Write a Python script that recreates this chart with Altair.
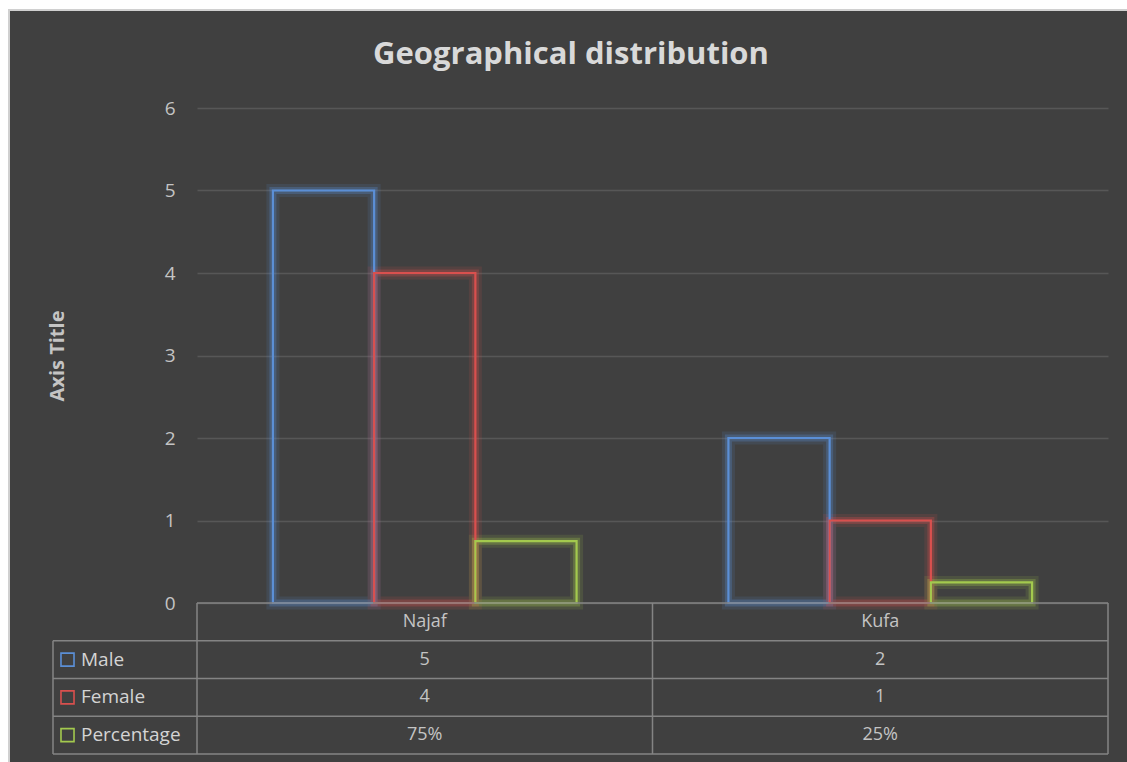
import altair as alt
import pandas as pd

# ---------------- data ----------------
categories = ["Najaf", "Kufa"]
series = ["Male", "Female", "Percentage"]
male = [5, 2]
female = [4, 1]
percentage = [0.75, 0.25]
colors = ["#5b8fd6", "#d9504e", "#a3c94e"]
y_ticks = [0, 1, 2, 3, 4, 5, 6]
title_text = "Geographical distribution"

values = {"Male": male, "Female": female, "Percentage": percentage}
rows = []
for s_i, s in enumerate(series):
    for c_i, c in enumerate(categories):
        v = values[s][c_i]
        lab = f"{round(v * 100)}%" if s == "Percentage" else f"{v}"
        rows.append({"series": s, "category": c, "value": v, "label": lab,
                     "col": c_i + 0.5, "row": s_i + 1.5})
df = pd.DataFrame(rows)

# ---------------- layout ----------------
W, H = 911, 495
PAD_L, PAD_T = 197, 108
TABLE_H = 151
COL_W = W / len(categories)
LEG_W = 144
leg_left = -LEG_W / COL_W          # legend column left edge in column units
sym_x = -129.5 / COL_W
lab_x = -116 / COL_W
n_rows = 4

FONT = "Open Sans"
BG = "#404040"
GRID = "#575757"
LINE = "#848484"
TXT = "#c4c4c4"

color_scale = alt.Scale(domain=series, range=colors)
x_band = alt.X("category:N", sort=categories, axis=None,
               scale=alt.Scale(domain=categories, paddingInner=0, paddingOuter=0))
x_off = alt.XOffset("series:N", sort=series,
                    scale=alt.Scale(domain=series, paddingInner=0, paddingOuter=0.75))
y_lin = alt.Y("value:Q", scale=alt.Scale(domain=[0, 6], nice=False),
              axis=alt.Axis(values=y_ticks, grid=True, gridColor=GRID, gridWidth=1.5,
                            domain=False, ticks=False, labelPadding=22,
                            labelFont=FONT, labelFontSize=19, labelColor=TXT,
                            title="Axis Title", titleFont=FONT, titleFontSize=20,
                            titleFontWeight="bold", titleColor=TXT,
                            titleX=-140, titleY=H / 2, titleBaseline="middle",
                            titleAngle=270))
stroke_enc = alt.Stroke("series:N", scale=color_scale, legend=None)

base = alt.Chart(df)
glow1 = base.mark_bar(filled=False, strokeWidth=13, opacity=0.13).encode(
    x=x_band, xOffset=x_off, y=y_lin, stroke=stroke_enc)
glow2 = base.mark_bar(filled=False, strokeWidth=7, opacity=0.28).encode(
    x=x_band, xOffset=x_off, y=y_lin, stroke=stroke_enc)
bars = base.mark_bar(filled=False, strokeWidth=2.2).encode(
    x=x_band, xOffset=x_off, y=y_lin, stroke=stroke_enc)
bar_layer = alt.layer(glow1, glow2, bars)

# ---------------- data table ----------------
tx = alt.Scale(domain=[0, len(categories)], range=[0, W], nice=False, zero=False)
ty = alt.Scale(domain=[0, n_rows], range=[H, H + TABLE_H], nice=False, zero=False)

hlines = pd.DataFrame({"r": [0, 1, 2, 3, 4],
                       "x0": [0, leg_left, leg_left, leg_left, leg_left],
                       "x1": [len(categories)] * 5})
vlines = pd.DataFrame({"c": [leg_left, 0, 1, 2],
                       "y0": [1, 0, 0, 0], "y1": [n_rows] * 4})
headers = pd.DataFrame({"category": categories,
                        "col": [i + 0.5 for i in range(len(categories))],
                        "row": [0.5] * len(categories)})
legend_df = pd.DataFrame({"series": series,
                          "row": [i + 1.5 for i in range(len(series))],
                          "sx": [sym_x] * 3, "lx": [lab_x] * 3})

h_rule = alt.Chart(hlines).mark_rule(color=LINE, strokeWidth=1.5).encode(
    x=alt.X("x0:Q", scale=tx, axis=None), x2="x1:Q",
    y=alt.Y("r:Q", scale=ty, axis=None))
v_rule = alt.Chart(vlines).mark_rule(color=LINE, strokeWidth=1.5).encode(
    x=alt.X("c:Q", scale=tx, axis=None),
    y=alt.Y("y0:Q", scale=ty, axis=None), y2="y1:Q")
head_txt = alt.Chart(headers).mark_text(font=FONT, fontSize=18, color=TXT).encode(
    x=alt.X("col:Q", scale=tx, axis=None), y=alt.Y("row:Q", scale=ty, axis=None),
    text="category:N")
val_txt = alt.Chart(df).mark_text(font=FONT, fontSize=18, color=TXT).encode(
    x=alt.X("col:Q", scale=tx, axis=None), y=alt.Y("row:Q", scale=ty, axis=None),
    text="label:N")
sym = alt.Chart(legend_df).mark_point(shape="square", filled=False, size=170,
                                      strokeWidth=1.6, opacity=1).encode(
    x=alt.X("sx:Q", scale=tx, axis=None), y=alt.Y("row:Q", scale=ty, axis=None),
    stroke=stroke_enc)
leg_txt = alt.Chart(legend_df).mark_text(font=FONT, fontSize=19, color="#d4d4d4",
                                         align="left").encode(
    x=alt.X("lx:Q", scale=tx, axis=None), y=alt.Y("row:Q", scale=ty, axis=None),
    text="series:N")
table_layer = alt.layer(h_rule, v_rule, head_txt, val_txt, sym, leg_txt)

# ---------------- frame & title ----------------
one = pd.DataFrame({"a": [0]})
strip_top = alt.Chart(one).mark_rect(fill="white").encode(
    x=alt.value(-PAD_L), x2=alt.value(940), y=alt.value(-PAD_T), y2=alt.value(-99))
strip_left = alt.Chart(one).mark_rect(fill="white").encode(
    x=alt.value(-PAD_L), x2=alt.value(-189), y=alt.value(-PAD_T), y2=alt.value(660))
border = alt.Chart(one).mark_rect(fill=BG, fillOpacity=0, stroke="#d0d0d0",
                                  strokeWidth=2).encode(
    x=alt.value(-188), x2=alt.value(932), y=alt.value(-98), y2=alt.value(658))
title = alt.Chart(one).mark_text(font=FONT, fontSize=31, fontWeight="bold",
                                 color="#d9d9d9", align="center",
                                 baseline="middle").encode(
    x=alt.value(571 - PAD_L), y=alt.value(55 - PAD_T), text=alt.value(title_text))

chart = alt.layer(strip_top, strip_left, border, title, bar_layer, table_layer).resolve_scale(
    x="independent", y="independent", stroke="shared"
).properties(
    width=W, height=H,
    autosize=alt.AutoSizeParams(type="none"),
    padding={"left": PAD_L, "top": PAD_T, "right": 19, "bottom": 159},
).configure(background=BG).configure_view(stroke=None)

chart.save("out.html", embed_options={"renderer": "svg", "actions": False})
